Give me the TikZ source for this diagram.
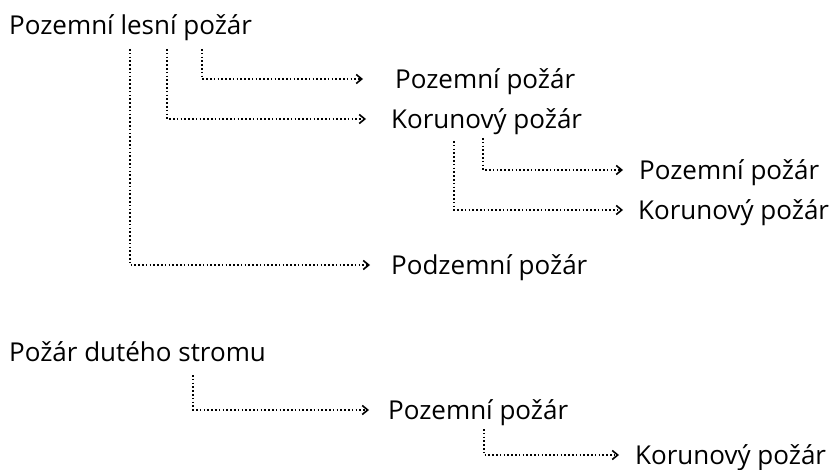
\documentclass[tikz,border=0pt]{standalone}
\usepackage{fontspec}
\setmainfont{Open Sans}
\usetikzlibrary{arrows.meta}
\begin{document}
\begin{tikzpicture}[x=1pt,y=-1pt,
  lbl/.style={anchor=west,inner sep=0pt,text height=18.6pt,text depth=0pt,font=\fontsize{26}{30}\selectfont},
  conn/.style={line width=1.8pt,dash pattern=on 1.6pt off 2.2pt,-{Straight Barb[length=5.5pt,width=9pt,line width=1.6pt]}}]
\useasboundingbox (0,0) rectangle (838,470);
% top tree
\node[lbl] (root1) at (9,25) {Pozemní lesní požár};
\node[lbl] (a1) at (395,79) {Pozemní požár};
\node[lbl] (a2) at (391,119) {Korunový požár};
\node[lbl] (a3) at (391,265) {Podzemní požár};
\node[lbl] (b1) at (639,170) {Pozemní požár};
\node[lbl] (b2) at (638,210) {Korunový požár};
\coordinate (s1) at (130,49);
\coordinate (s2) at (167,49);
\coordinate (s3) at (202,49);
\coordinate (s4) at (454,141);
\coordinate (s5) at (483,138);
\draw[conn] (s3) |- ([xshift=-32pt]a1.west);
\draw[conn] (s2) |- ([xshift=-25pt]a2.west);
\draw[conn] (s1) |- ([xshift=-21pt]a3.west);
\draw[conn] (s5) |- ([xshift=-16pt]b1.west);
\draw[conn] (s4) |- ([xshift=-15pt]b2.west);
% bottom tree
\node[lbl] (root2) at (9,352) {Požár dutého stromu};
\node[lbl] (c1) at (388,410) {Pozemní požár};
\node[lbl] (c2) at (635,455) {Korunový požár};
\coordinate (s6) at (193,375);
\coordinate (s7) at (484,429);
\draw[conn] (s6) |- ([xshift=-19pt]c1.west);
\draw[conn] (s7) |- ([xshift=-16pt]c2.west);
\end{tikzpicture}
\end{document}
